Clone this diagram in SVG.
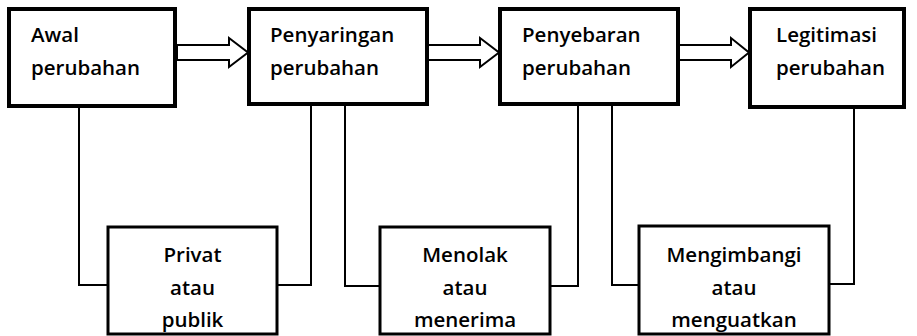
<svg xmlns="http://www.w3.org/2000/svg" width="917" height="336" viewBox="0 0 917 336">
<style>
.top{fill:#fff;stroke:#000;stroke-width:4}
.bot{fill:#fff;stroke:#000;stroke-width:3}
.arr{fill:#fff;stroke:#000;stroke-width:2;stroke-linejoin:miter}
.ln{fill:none;stroke:#000;stroke-width:2}
text{font-family:"Open Sans","Liberation Sans",sans-serif;font-weight:600;font-size:20.5px;fill:#000}
.c{text-anchor:middle}
</style>
<rect width="917" height="336" fill="#fff"/>
<g id="connectors">
<path class="ln" d="M79,106V285H108M311,104V285H277"/>
<path class="ln" d="M345,104V286H380M578,104V286H550"/>
<path class="ln" d="M612,104V285H639M854,107V284H829"/>
<path class="arr" d="M177,45H229V38L248,52.5L229,67V60H177Z"/>
<path class="arr" d="M427,45H480V38L499,52.5L480,67V60H427Z"/>
<path class="arr" d="M678,45H731V38L749,52.5L731,67V60H678Z"/>
</g>
<g id="n1"><rect class="top" x="9" y="9" width="166" height="97"/><text x="31" y="42">Awal</text><text x="31" y="75">perubahan</text></g>
<g id="n2"><rect class="top" x="249" y="9" width="178" height="95"/><text x="270" y="42">Penyaringan</text><text x="270" y="75">perubahan</text></g>
<g id="n3"><rect class="top" x="500" y="9" width="178" height="95"/><text x="522" y="42">Penyebaran</text><text x="522" y="75">perubahan</text></g>
<g id="n4"><rect class="top" x="750" y="9" width="154" height="98"/><text x="776" y="42">Legitimasi</text><text x="776" y="75">perubahan</text></g>
<g id="b1"><rect class="bot" x="108" y="227" width="169" height="107"/><text class="c" x="192.5" y="262">Privat</text><text class="c" x="192.5" y="295">atau</text><text class="c" x="192.5" y="327">publik</text></g>
<g id="b2"><rect class="bot" x="380" y="227" width="170" height="107"/><text class="c" x="465" y="262">Menolak</text><text class="c" x="465" y="295">atau</text><text class="c" x="465" y="327">menerima</text></g>
<g id="b3"><rect class="bot" x="639" y="226" width="190" height="108"/><text class="c" x="734" y="262">Mengimbangi</text><text class="c" x="734" y="295">atau</text><text class="c" x="734" y="327">menguatkan</text></g>
</svg>
